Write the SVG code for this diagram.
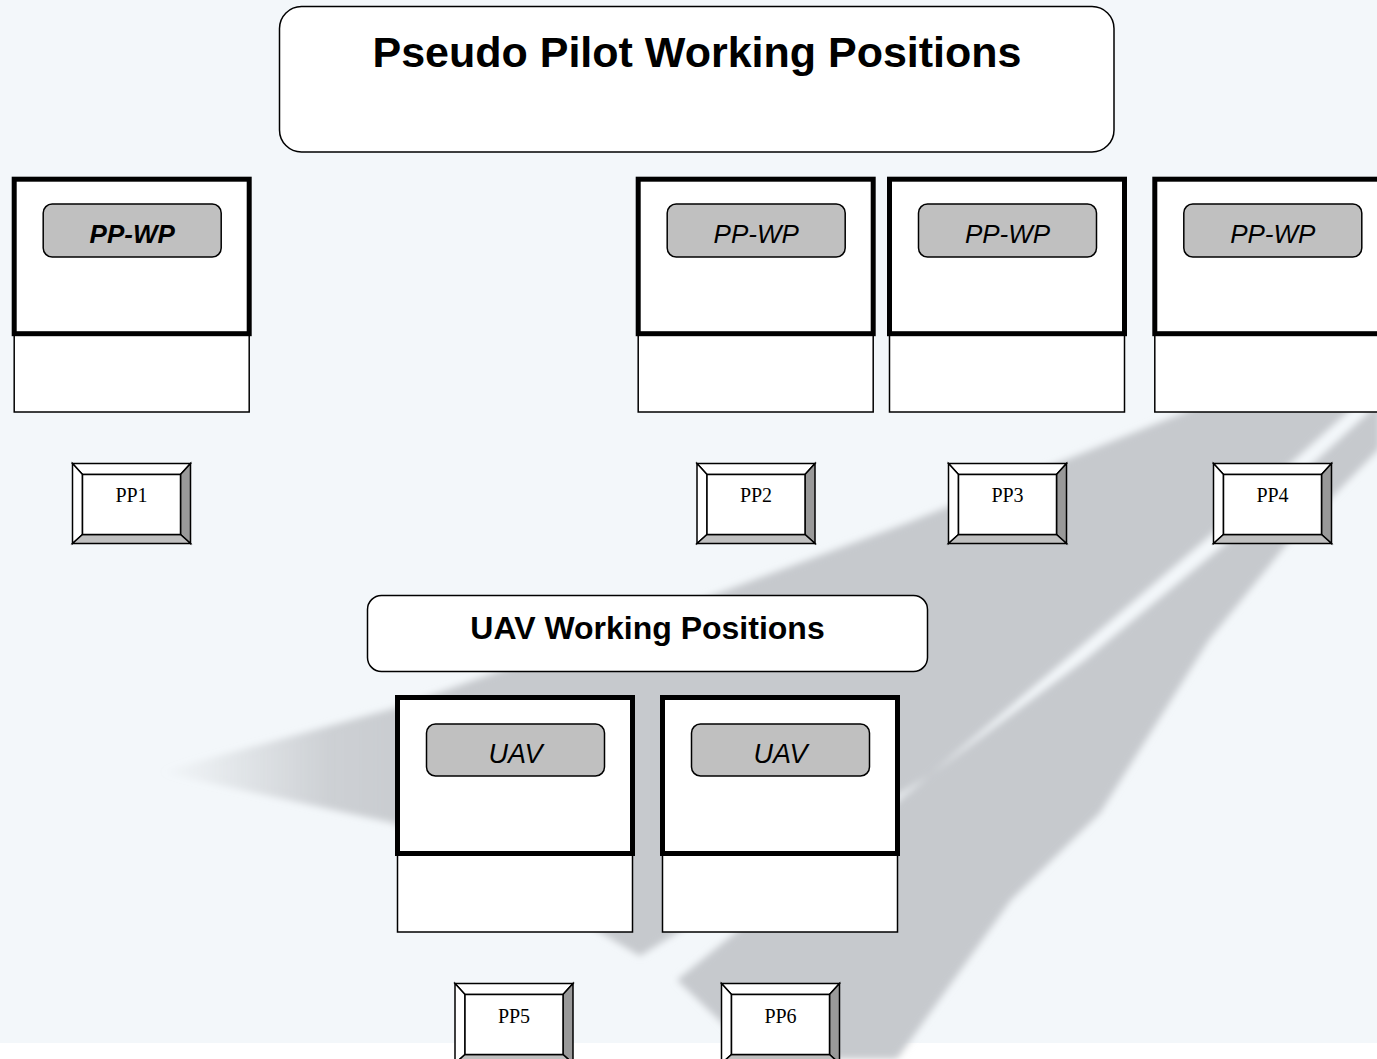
<svg xmlns="http://www.w3.org/2000/svg" width="1377" height="1059" viewBox="0 0 1377 1059">
<defs>
<style>
.sans{font-family:"Liberation Sans",Arial,sans-serif}
.serif{font-family:"Liberation Serif","Times New Roman",serif}
.screen{fill:#fff;stroke:#000;stroke-width:5}
.base{fill:#fff;stroke:#000;stroke-width:1.5}
.lbl{fill:#c0c0c0;stroke:#000;stroke-width:1.5}
.lbltxt{font-size:26px;font-style:italic;text-anchor:middle;fill:#000}
.uavtxt{font-size:27px;font-style:italic;text-anchor:middle;fill:#000}
.hdr{fill:#fff;stroke:#000;stroke-width:1.5}
.hdrtxt{font-weight:bold;text-anchor:middle;fill:#000}
.bev{stroke:#000;stroke-width:1.5;stroke-linejoin:miter}
.pptxt{font-size:20px;text-anchor:middle;fill:#000}
.sw{fill:#C6C9CD}
</style>
<linearGradient id="tipfade" gradientUnits="userSpaceOnUse" x1="160" y1="0" x2="470" y2="0">
<stop offset="0" stop-color="#C6C9CD" stop-opacity="0"/>
<stop offset="0.55" stop-color="#C6C9CD" stop-opacity="0.85"/>
<stop offset="1" stop-color="#C6C9CD" stop-opacity="1"/>
</linearGradient>
<filter id="soft" x="-5%" y="-5%" width="110%" height="110%"><feGaussianBlur stdDeviation="3.5"/></filter>
<g id="btn">
<polygon class="bev" fill="#fff" points="0,0 118,0 108,11 10,11"/>
<polygon class="bev" fill="#fff" points="0,0 10,11 10,71 0,80"/>
<polygon class="bev" fill="#999" points="118,0 118,80 108,71 108,11"/>
<polygon class="bev" fill="#c0c0c0" points="0,80 118,80 108,71 10,71"/>
<rect class="bev" fill="#fff" x="10" y="11" width="98" height="60"/>
</g>
</defs>

<g id="background">
<rect x="0" y="0" width="1377" height="1043" fill="#F3F7FA"/>
<rect x="0" y="1043" width="1377" height="16" fill="#FFFFFF"/>
<g filter="url(#soft)">
<path fill="url(#tipfade)" d="M160,772 L395,708 L700,600 L907,523 L1183,413 L1220,395 L1352,395 L1350,410 L1205,540 L1065,660 L930,775 L640,956 L520,885 L393,823 Z"/>
<path class="sw" d="M1380,402 L1230,540 L1085,660 L930,775 L677,980 L760,1059 L897,1059 L1011,900 L1100,813 L1209,640 L1290,540 L1380,448 Z"/>
</g>
</g>

<g id="connectors"/>

<g id="title">
<rect class="hdr" x="279.5" y="6.5" width="834.5" height="145.5" rx="22"/>
<text class="sans hdrtxt" x="697" y="67" font-size="43">Pseudo Pilot Working Positions</text>
</g>

<g id="ppwp1" transform="translate(11.7,0)">
<rect class="base" x="2.5" y="334" width="235" height="78"/>
<rect class="screen" x="2.5" y="179.2" width="235" height="154.5"/>
<rect class="lbl" x="31.5" y="204" width="178" height="53" rx="9"/>
<text class="sans lbltxt" x="120.5" y="242.7" font-weight="bold">PP-WP</text>
</g>
<g id="ppwp2" transform="translate(635.7,0)">
<rect class="base" x="2.5" y="334" width="235" height="78"/>
<rect class="screen" x="2.5" y="179.2" width="235" height="154.5"/>
<rect class="lbl" x="31.5" y="204" width="178" height="53" rx="9"/>
<text class="sans lbltxt" x="120.5" y="242.7">PP-WP</text>
</g>
<g id="ppwp3" transform="translate(887,0)">
<rect class="base" x="2.5" y="334" width="235" height="78"/>
<rect class="screen" x="2.5" y="179.2" width="235" height="154.5"/>
<rect class="lbl" x="31.5" y="204" width="178" height="53" rx="9"/>
<text class="sans lbltxt" x="120.5" y="242.7">PP-WP</text>
</g>
<g id="ppwp4" transform="translate(1152.3,0)">
<rect class="base" x="2.5" y="334" width="235" height="78"/>
<rect class="screen" x="2.5" y="179.2" width="235" height="154.5"/>
<rect class="lbl" x="31.5" y="204" width="178" height="53" rx="9"/>
<text class="sans lbltxt" x="120.5" y="242.7">PP-WP</text>
</g>

<g id="pp1"><use href="#btn" x="72.5" y="463.5"/><text class="serif pptxt" x="131.5" y="502">PP1</text></g>
<g id="pp2"><use href="#btn" x="697" y="463.5"/><text class="serif pptxt" x="756" y="502">PP2</text></g>
<g id="pp3"><use href="#btn" x="948.5" y="463.5"/><text class="serif pptxt" x="1007.5" y="502">PP3</text></g>
<g id="pp4"><use href="#btn" x="1213.5" y="463.5"/><text class="serif pptxt" x="1272.5" y="502">PP4</text></g>

<g id="uav-title">
<rect class="hdr" x="367.5" y="595.5" width="560" height="76" rx="14"/>
<text class="sans hdrtxt" x="647.5" y="639" font-size="32">UAV Working Positions</text>
</g>

<g id="uav1" transform="translate(395,0)">
<rect class="base" x="2.5" y="854" width="235" height="78"/>
<rect class="screen" x="2.5" y="697.5" width="235" height="156"/>
<rect class="lbl" x="31.5" y="724" width="178" height="52" rx="9"/>
<text class="sans uavtxt" x="120.5" y="763.3">UAV</text>
</g>
<g id="uav2" transform="translate(660,0)">
<rect class="base" x="2.5" y="854" width="235" height="78"/>
<rect class="screen" x="2.5" y="697.5" width="235" height="156"/>
<rect class="lbl" x="31.5" y="724" width="178" height="52" rx="9"/>
<text class="sans uavtxt" x="120.5" y="763.3">UAV</text>
</g>

<g id="pp5"><use href="#btn" x="455" y="983.5"/><text class="serif pptxt" x="514" y="1023">PP5</text></g>
<g id="pp6"><use href="#btn" x="721.5" y="983.5"/><text class="serif pptxt" x="780.5" y="1023">PP6</text></g>
</svg>
